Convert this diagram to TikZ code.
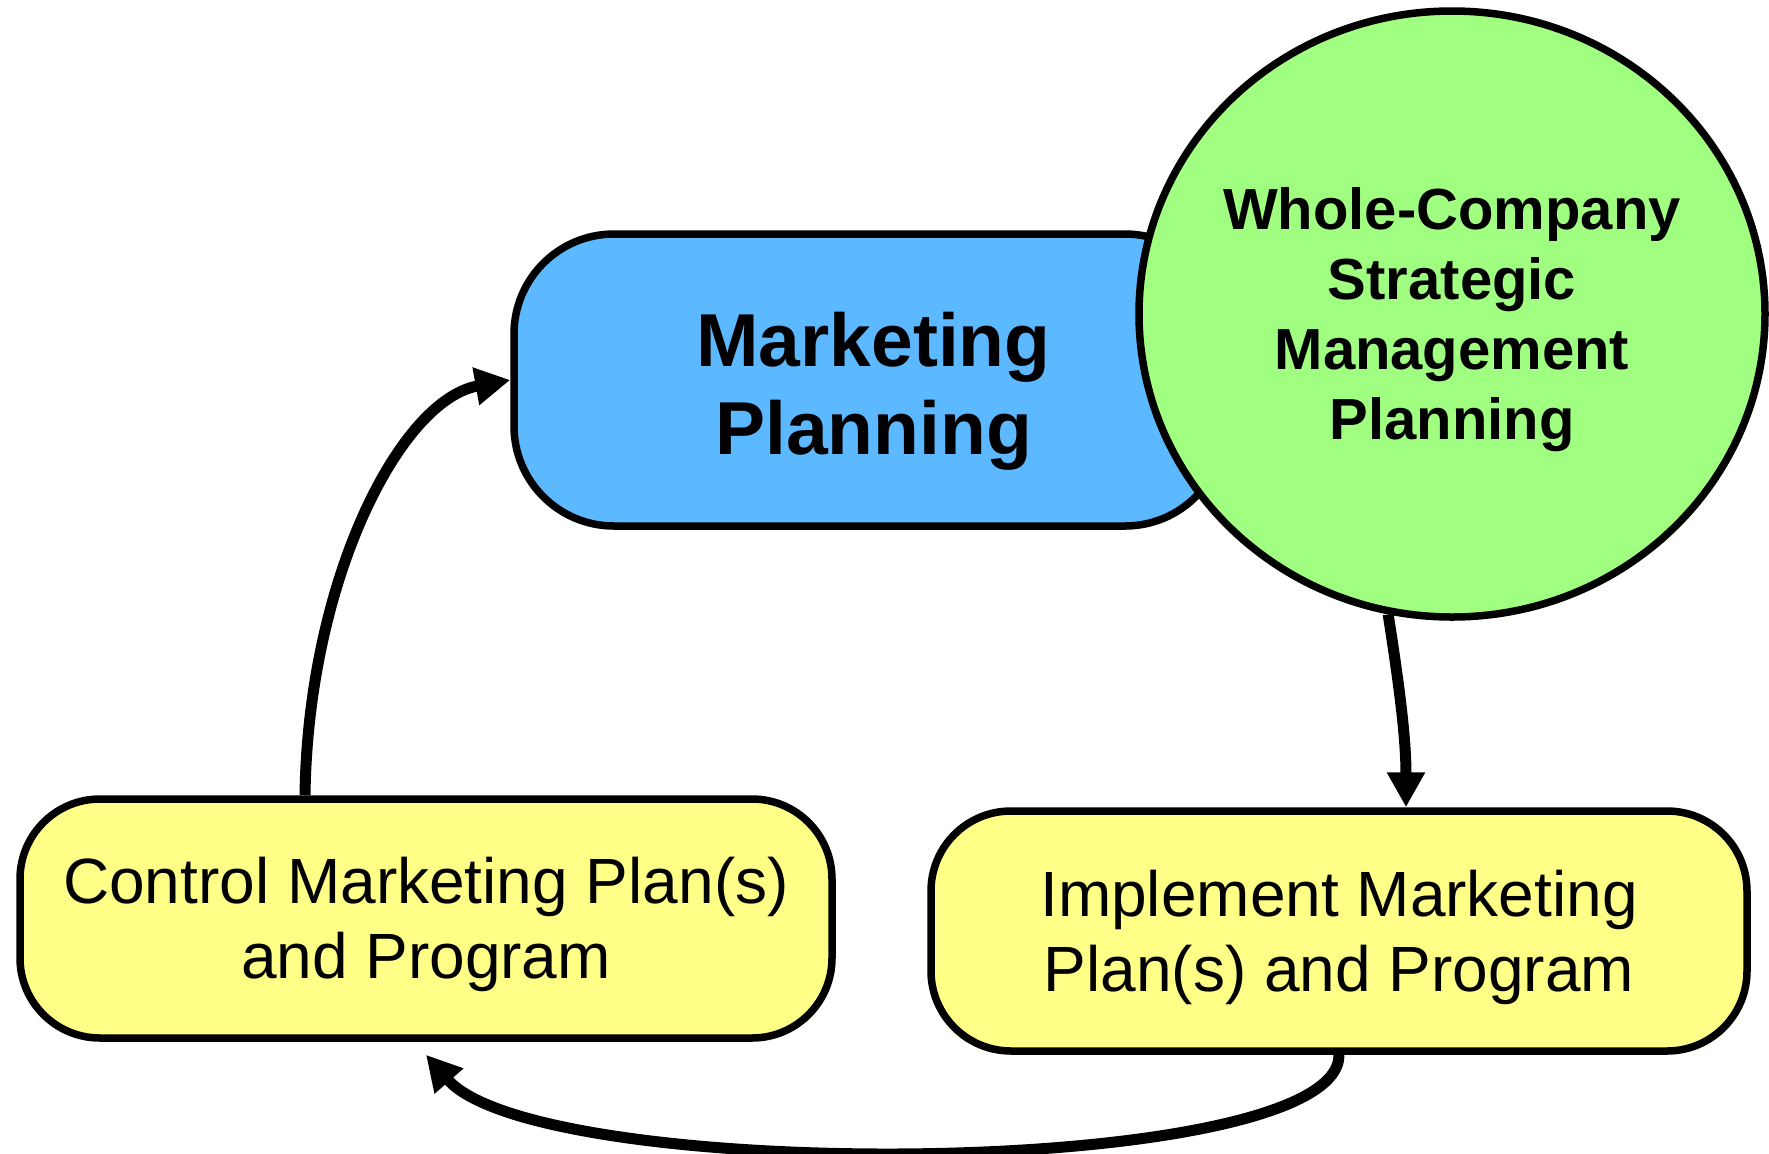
\documentclass[tikz,border=0pt]{standalone}
\usepackage{fontspec}
\setmainfont{Liberation Sans}
\usetikzlibrary{shapes.geometric,arrows.meta}
\definecolor{mpblue}{RGB}{92,184,255}
\definecolor{wcgreen}{RGB}{160,255,128}
\definecolor{boxyellow}{RGB}{255,255,136}
\begin{document}
\begin{tikzpicture}[x=0.5pt,y=-0.5pt,
  box/.style={draw=black,line width=3.75pt,rounded corners=40pt,inner sep=0pt},
  txt/.style={align=center,inner sep=0pt},
  stepfont/.style={font=\fontsize{32pt}{37.5pt}\selectfont},
  conn/.style={line width=5.5pt,-{Triangle[length=17.5pt,width=18pt]}}]
\useasboundingbox (0,0) rectangle (1769,1153);
% Marketing Planning (blue)
\node[box,fill=mpblue,rounded corners=50pt,minimum width=355.5pt,minimum height=146pt] (mp) at (869.5,380) {};
\node[txt,font=\fontsize{37.5pt}{44pt}\selectfont\bfseries] (mpt) at ([xshift=2pt,yshift=-5.5pt]mp.center) {Marketing\\Planning};
% Whole-company circle
\node[draw=black,line width=3.75pt,fill=wcgreen,ellipse,inner sep=0pt,
  minimum width=313pt,minimum height=303pt] (wc) at (1452,314) {};
\node[txt,font=\fontsize{29pt}{35pt}\selectfont\bfseries] (wct) at ([yshift=-3pt]wc.center)
  {Whole-Company\\Strategic\\Management\\Planning};
% Control box
\node[box,fill=boxyellow,minimum width=406pt,minimum height=119.5pt] (ctrl) at (426,918.5) {};
\node[txt,stepfont] (ctrlt) at ([yshift=-3pt]ctrl.center) {Control Marketing Plan(s)\\and Program};
% Implement box
\node[box,fill=boxyellow,minimum width=408pt,minimum height=120pt] (impl) at (1339,931) {};
\node[txt,stepfont] (implt) at ([yshift=-3pt]impl.center) {Implement Marketing\\Plan(s) and Program};
% connectors
\draw[conn] ([xshift=-60.5pt]ctrl.north) .. controls (308,580) and (400,400) .. (mp.west);
\draw[conn] (wc.-102) .. controls (1400,690) and (1406,740) .. ([xshift=33.5pt]impl.north);
\draw[conn] (impl.south) .. controls (1340,1180) and (540,1185) .. ([yshift=-6.5pt]ctrl.south);
\end{tikzpicture}
\end{document}
